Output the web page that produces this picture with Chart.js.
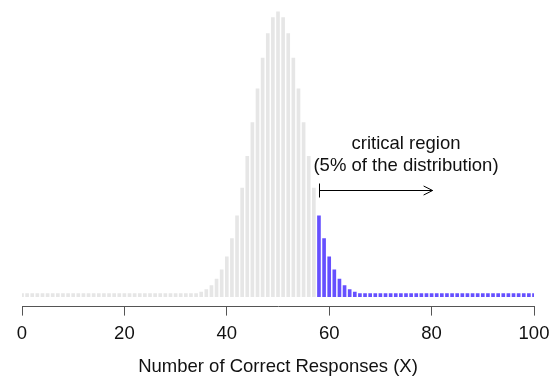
<!DOCTYPE html>
<html>
<head>
<meta charset="utf-8">
<script src="https://cdn.jsdelivr.net/npm/chart.js@4"></script>
<style>
  html, body { margin: 0; padding: 0; background: #fff; }
  #wrap { width: 558px; height: 384px; }
</style>
</head>
<body>
<div id="wrap"><canvas id="chart" width="558" height="384"></canvas></div>
<script>
// number of correct responses, 0..100
const responses = Array.from({length: 101}, (_, i) => i);

// probabilities (tails ~0)
const probs = [
  0, 0, 0, 0, 0, 0, 0, 0, 0, 0,
  0, 0, 0, 0, 0, 0, 0, 0, 0, 0,
  0, 0, 0, 0, 0, 0, 0, 0, 0, 0,
  0.00002, 0.00005, 0.00011, 0.00023, 0.00046, 0.00086, 0.00156, 0.0027, 0.0045, 0.0071,
  0.0108, 0.0159, 0.0223, 0.0301, 0.0390, 0.0485, 0.0580, 0.0666, 0.0735, 0.0780,
  0.0796,
  0.0780, 0.0735, 0.0666, 0.0580, 0.0485, 0.0390, 0.0301, 0.0223, 0.0159, 0.0108,
  0.0071, 0.0045, 0.0027, 0.00156, 0.00086, 0.00046, 0.00023, 0.00011, 0.00005, 0.00002,
  0, 0, 0, 0, 0, 0, 0, 0, 0, 0,
  0, 0, 0, 0, 0, 0, 0, 0, 0, 0,
  0, 0, 0, 0, 0, 0, 0, 0, 0, 0
];

const criticalStart = 58;
const xTickStep = 20;

const GREY = '#e6e6e6';
const PURPLE = '#6650ff';
const FONT = '"Liberation Sans", Arial, Helvetica, sans-serif';

const points = responses.map((x, i) => ({x: x, y: probs[i]}));
const colours = responses.map(x => x >= criticalStart ? PURPLE : GREY);

// annotation: text and arrow over the critical region
const annot = {
  textX: 75,
  line1Y: 0.0412,
  line2Y: 0.0349,
  arrowY: 0.0296,
  arrowFrom: criticalStart,
  arrowTo: 80.2
};

const annotationPlugin = {
  id: 'critRegion',
  afterDatasetsDraw(chart) {
    const {ctx, scales: {x, y}} = chart;
    ctx.save();
    ctx.fillStyle = '#111';
    ctx.font = '18.5px ' + FONT;
    ctx.textAlign = 'center';
    ctx.textBaseline = 'alphabetic';
    ctx.fillText('critical region', x.getPixelForValue(annot.textX), y.getPixelForValue(annot.line1Y));
    ctx.fillText('(5% of the distribution)', x.getPixelForValue(annot.textX), y.getPixelForValue(annot.line2Y));

    const ay = Math.round(y.getPixelForValue(annot.arrowY)) + 0.5;
    const x0 = Math.round(x.getPixelForValue(annot.arrowFrom)) + 0.5;
    const x1 = x.getPixelForValue(annot.arrowTo);
    ctx.strokeStyle = '#000';
    ctx.lineWidth = 1;
    ctx.beginPath();
    ctx.moveTo(x0, ay - 7);
    ctx.lineTo(x0, ay + 7);
    ctx.moveTo(x0, ay);
    ctx.lineTo(x1, ay);
    ctx.moveTo(x1 - 9, ay - 4.5);
    ctx.lineTo(x1, ay);
    ctx.lineTo(x1 - 9, ay + 4.5);
    ctx.stroke();
    ctx.restore();
  }
};

new Chart(document.getElementById('chart'), {
  type: 'bar',
  data: {
    datasets: [{
      data: points,
      backgroundColor: colours,
      borderWidth: 0,
      barThickness: 3,
      base: -0.0004,
      minBarLength: 3
    }]
  },
  options: {
    responsive: false,
    animation: false,
    layout: {padding: {left: 22, right: 24, top: 5, bottom: 0}},
    plugins: {
      legend: {display: false},
      tooltip: {enabled: false}
    },
    scales: {
      x: {
        type: 'linear',
        min: 0,
        max: 100,
        offset: false,
        grid: {
          offset: false,
          drawOnChartArea: false,
          drawTicks: true,
          tickLength: 9,
          tickColor: '#555',
          tickWidth: 1
        },
        border: {display: true, color: '#555', width: 1},
        ticks: {
          stepSize: xTickStep,
          autoSkip: false,
          color: '#111',
          font: {family: FONT, size: 18.5},
          padding: 7,
          maxRotation: 0
        },
        title: {
          display: true,
          text: 'Number of Correct Responses (X)',
          color: '#111',
          font: {family: FONT, size: 18.5},
          padding: {top: 4, bottom: 6}
        }
      },
      y: {
        display: false,
        min: -0.0032,
        max: 0.08155
      }
    }
  },
  plugins: [annotationPlugin]
});
</script>
</body>
</html>
